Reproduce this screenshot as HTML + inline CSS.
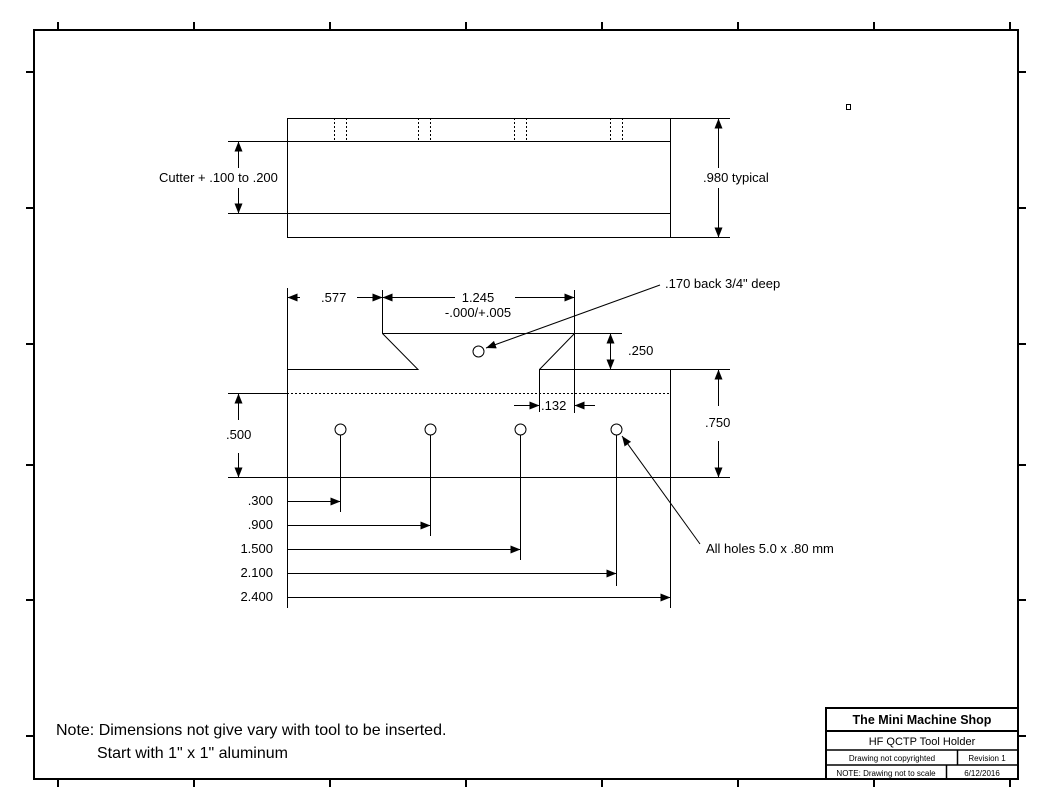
<!DOCTYPE html>
<html><head><style>
html,body{margin:0;padding:0;background:#fff;}
svg{display:block;}
text{font-family:"Liberation Sans",Arial,sans-serif;fill:#000;}
</style></head><body>
<svg width="1050" height="810" viewBox="0 0 1050 810" xmlns="http://www.w3.org/2000/svg">
<defs>
<marker id="a" viewBox="0 0 10 8" refX="10" refY="4" markerWidth="10" markerHeight="8" markerUnits="userSpaceOnUse" orient="auto"><path d="M0,0 L10,4 L0,8 Z" fill="#000"/></marker>
</defs>
<g stroke="#000" fill="none">
<rect x="34" y="30" width="984" height="749" stroke-width="2"/>
<g stroke-width="2">
<path d="M58,22V30M194,22V30M330,22V30M466,22V30M602,22V30M738,22V30M874,22V30M1010,22V30"/>
<path d="M58,779V787M194,779V787M330,779V787M466,779V787M602,779V787M738,779V787M874,779V787M1010,779V787"/>
<path d="M26,72H34M26,208H34M26,344H34M26,465H34M26,600H34M26,736H34"/>
<path d="M1018,72H1026M1018,208H1026M1018,344H1026M1018,465H1026M1018,600H1026M1018,736H1026"/>
</g>
<g stroke-width="1">
<rect x="287.5" y="118.5" width="383" height="119"/>
<path d="M228,141.5H670M228,213.5H670M670,118.5H730M670,237.5H730"/>
<path d="M334.5,118V141M346.5,118V141M418.5,118V141M430.5,118V141M514.5,118V141M526.5,118V141M610.5,118V141M622.5,118V141" stroke-dasharray="2,2"/>
<path d="M238.5,168V141.5" marker-end="url(#a)"/><path d="M238.5,188V213.5" marker-end="url(#a)"/>
<path d="M718.5,168V118.5" marker-end="url(#a)"/><path d="M718.5,188V237.5" marker-end="url(#a)"/>
<path d="M287.5,288V608M287,369.5H418L382.5,333.5V290M382.5,333.5H622M574.5,290V413M574.5,333.5L539.5,369.5V412M539,369.5H730M670.5,369.5V608"/>
<path d="M228,393.5H287"/><path d="M287,393.5H670" stroke-dasharray="2,2"/>
<path d="M228,477.5H730"/>
<path d="M300,297.5H287.5" marker-end="url(#a)"/><path d="M357,297.5H382.5" marker-end="url(#a)"/>
<path d="M455,297.5H382.5" marker-end="url(#a)"/><path d="M515,297.5H574.5" marker-end="url(#a)"/>
<path d="M610.5,351V333.5" marker-end="url(#a)"/><path d="M610.5,351V369.5" marker-end="url(#a)"/>
<path d="M718.5,406V369.5" marker-end="url(#a)"/><path d="M718.5,441V477.5" marker-end="url(#a)"/>
<path d="M238.5,420V393.5" marker-end="url(#a)"/><path d="M238.5,453V477.5" marker-end="url(#a)"/>
<path d="M514,405.5H539.5" marker-end="url(#a)"/><path d="M595,405.5H574.5" marker-end="url(#a)"/>
<circle cx="340.5" cy="429.5" r="5.5"/><circle cx="430.5" cy="429.5" r="5.5"/><circle cx="520.5" cy="429.5" r="5.5"/><circle cx="616.5" cy="429.5" r="5.5"/><circle cx="478.5" cy="351.5" r="5.5"/>
<path d="M340.5,435V512M430.5,435V536M520.5,435V560M616.5,435V586"/>
<path d="M287,501.5H340.5" marker-end="url(#a)"/><path d="M287,525.5H430.5" marker-end="url(#a)"/><path d="M287,549.5H520.5" marker-end="url(#a)"/><path d="M287,573.5H616.5" marker-end="url(#a)"/><path d="M287,597.5H670.5" marker-end="url(#a)"/>
<path d="M660,285L486,348" marker-end="url(#a)"/>
<path d="M700,544L622,436" marker-end="url(#a)"/>
<rect x="846.5" y="104.5" width="4" height="5"/>
<rect x="826" y="708" width="192" height="71" stroke-width="2"/>
<path d="M826,731H1018" stroke-width="2"/>
<path d="M826,750H1018M826,765H1018M957.5,750V765M946.5,765V779" stroke-width="1.5"/>
</g>
</g>
<g font-size="13">
<text x="159" y="182">Cutter + .100 to .200</text>
<text x="703" y="182">.980 typical</text>
<text x="321" y="302">.577</text>
<text x="478" y="302" text-anchor="middle">1.245</text>
<text x="478" y="317" text-anchor="middle">-.000/+.005</text>
<text x="665" y="288">.170 back 3/4" deep</text>
<text x="628" y="355">.250</text>
<text x="705" y="427">.750</text>
<text x="226" y="439">.500</text>
<text x="541" y="410">.132</text>
<text x="273" y="505" text-anchor="end">.300</text>
<text x="273" y="529" text-anchor="end">.900</text>
<text x="273" y="553" text-anchor="end">1.500</text>
<text x="273" y="577" text-anchor="end">2.100</text>
<text x="273" y="601" text-anchor="end">2.400</text>
<text x="706" y="553">All holes 5.0 x .80 mm</text>
</g>
<text x="56" y="735" font-size="16">Note: Dimensions not give vary with tool to be inserted.</text>
<text x="97" y="758" font-size="16">Start with 1" x 1" aluminum</text>
<text x="922" y="724" font-size="12.5" font-weight="bold" text-anchor="middle">The Mini Machine Shop</text>
<text x="922" y="745" font-size="11" text-anchor="middle">HF QCTP Tool Holder</text>
<text x="892" y="761" font-size="8" text-anchor="middle">Drawing not copyrighted</text>
<text x="987" y="761" font-size="8" text-anchor="middle">Revision 1</text>
<text x="886" y="776" font-size="8" text-anchor="middle">NOTE: Drawing not to scale</text>
<text x="982" y="776" font-size="8" text-anchor="middle">6/12/2016</text>
</svg>
</body></html>
